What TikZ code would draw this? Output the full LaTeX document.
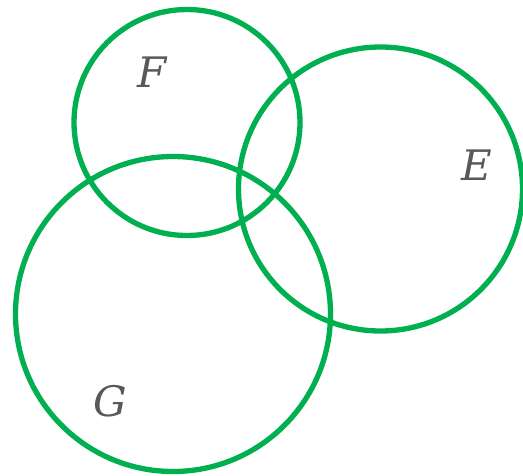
\documentclass[tikz,border=0pt]{standalone}
\usepackage{fontspec}
\setmainfont{DejaVu Serif}
\definecolor{ringgreen}{HTML}{00B050}
\definecolor{labelgray}{HTML}{595959}
\begin{document}
\begin{tikzpicture}[x=1pt,y=-1pt,
  ring/.style={draw=ringgreen,line width=5.3pt},
  lbl/.style={text=labelgray,font=\fontsize{42}{42}\selectfont\itshape,inner sep=0pt,anchor=center}]
\useasboundingbox (0,0) rectangle (523,475);
\draw[ring] (187,122.5) circle[radius=113];
\draw[ring] (380.5,189) circle[radius=142];
\draw[ring] (173,314) circle[radius=157.5];
\node[lbl] (F) at (152,72) {F};
\node[lbl] (E) at (477,165) {E};
\node[lbl] (G) at (110,401) {G};
\end{tikzpicture}
\end{document}
